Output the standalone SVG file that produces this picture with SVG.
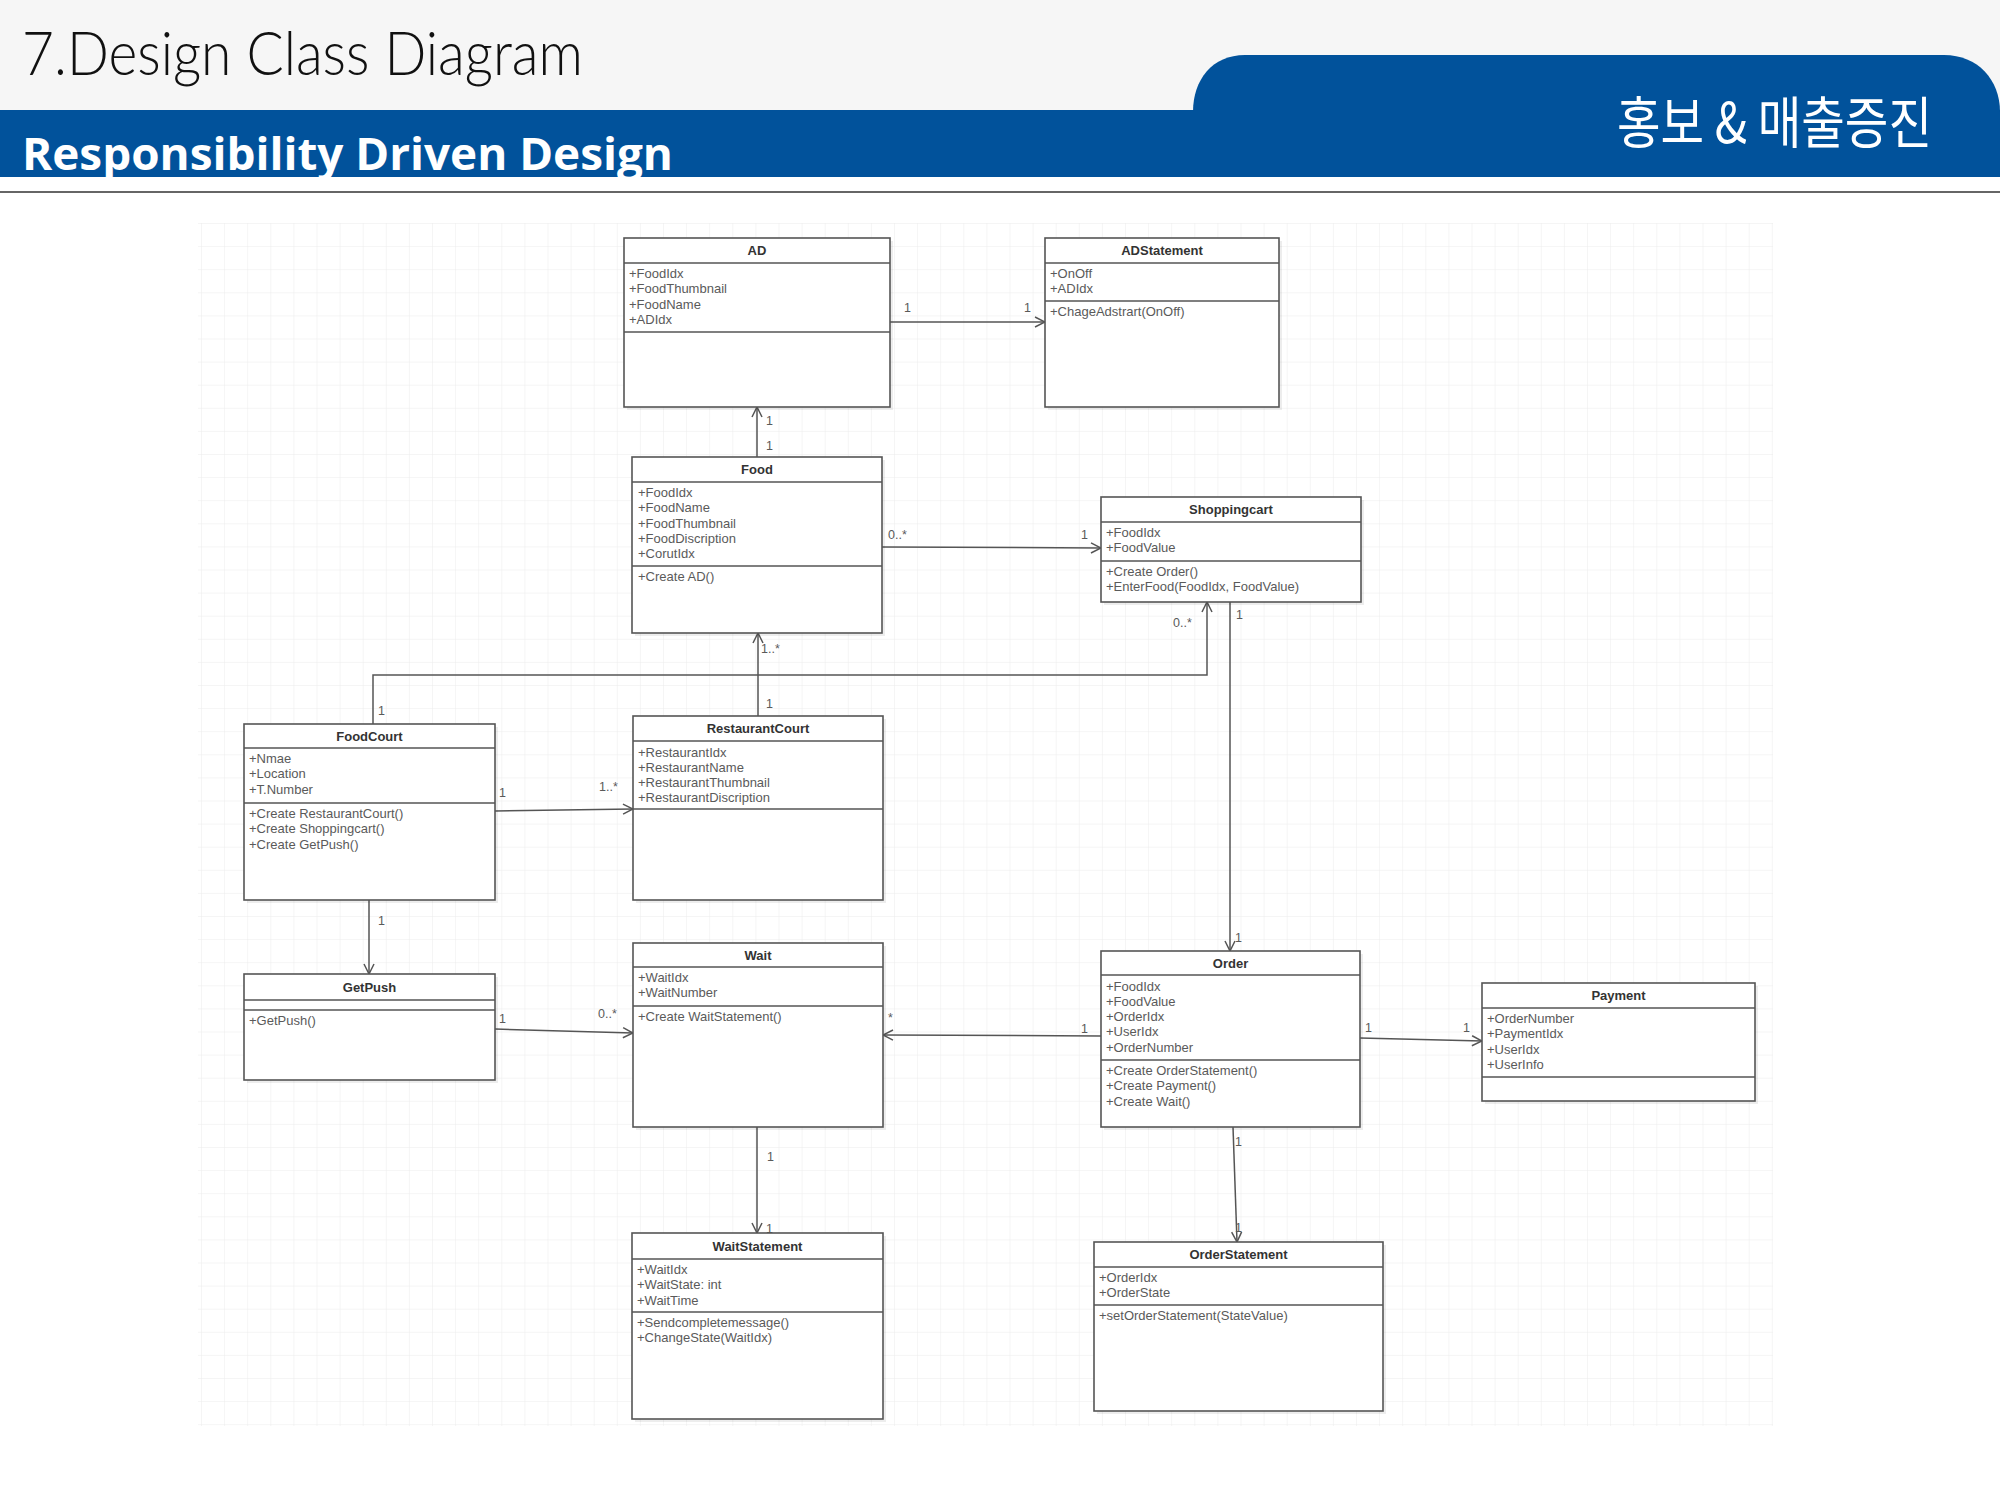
<svg xmlns="http://www.w3.org/2000/svg" width="2000" height="1500" viewBox="0 0 2000 1500">
<style>
.box{fill:#ffffff;stroke:#555555;stroke-width:1.6}
.shadow{fill:#000000;opacity:0.07}
.sep{stroke:#555555;stroke-width:1.6}
.title{font-family:"Liberation Sans",Arial,sans-serif;font-size:13px;font-weight:bold;fill:#333333;text-anchor:middle}
.attr{font-family:"Liberation Sans",Arial,sans-serif;font-size:13px;fill:#5a5a5a}
.lbl{font-family:"Liberation Sans",Arial,sans-serif;font-size:12.5px;fill:#5a5a5a}
.conn{fill:none;stroke:#555555;stroke-width:1.5;marker-end:url(#arr)}
</style>
<defs>
<marker id="arr" markerWidth="12" markerHeight="12" refX="11" refY="6" orient="auto" markerUnits="userSpaceOnUse">
<path d="M1,1 L11,6 L1,11" fill="none" stroke="#555555" stroke-width="1.5"/>
</marker>
<pattern id="grid" x="201" y="223" width="23.1" height="23.1" patternUnits="userSpaceOnUse">
<path d="M0,0 L23.1,0 M0,0 L0,23.1" fill="none" stroke="#ebebeb" stroke-width="1"/>
</pattern>
</defs>

<!-- page background -->
<rect x="0" y="0" width="2000" height="1500" fill="#ffffff"/>
<rect x="0" y="0" width="2000" height="110" fill="#f6f6f6"/>
<rect x="0" y="110" width="2000" height="67" fill="#01529b"/>
<path d="M1193,177 L1193,112 C1193,80 1212,55 1245,55 L1944,55 C1978,55 2000,80 2000,112 L2000,177 Z" fill="#01529b"/>
<line x1="0" y1="192" x2="2000" y2="192" stroke="#666666" stroke-width="2"/>
<text x="22" y="75" font-family="Lato, Open Sans, Liberation Sans, sans-serif" font-weight="300" font-size="62" fill="#111111" textLength="561" lengthAdjust="spacingAndGlyphs">7.Design Class Diagram</text>
<text x="22" y="170" font-family="Open Sans, Liberation Sans, sans-serif" font-size="44" font-weight="bold" fill="#ffffff" textLength="651" lengthAdjust="spacingAndGlyphs">Responsibility Driven Design</text>
<text x="1617" y="143" font-family="Noto Sans CJK KR, sans-serif" font-size="56" fill="#ffffff" textLength="315" lengthAdjust="spacingAndGlyphs">홍보 &amp; 매출증진</text>

<!-- grid area -->
<rect x="198" y="223" width="1575" height="1203" fill="url(#grid)"/>

<!-- connectors -->
<g id="connectors">
<path class="conn" d="M757,457 L757,407"/>
<path class="conn" d="M890,322 L1045,322"/>
<path class="conn" d="M882,547 L1101,548"/>
<path class="conn" d="M1230,602 L1230,951"/>
<path class="conn" d="M373,724 L373,675 L1207,675 L1207,602"/>
<path class="conn" d="M758,716 L758,633"/>
<path class="conn" d="M495,811 L633,809"/>
<path class="conn" d="M369,900 L369,974"/>
<path class="conn" d="M495,1029 L633,1033"/>
<path class="conn" d="M1101,1036 L883,1035"/>
<path class="conn" d="M1360,1038 L1482,1041"/>
<path class="conn" d="M757,1127 L757,1233"/>
<path class="conn" d="M1233,1127 L1237,1242"/>
<text class="lbl" x="766" y="425">1</text>
<text class="lbl" x="766" y="450">1</text>
<text class="lbl" x="904" y="312">1</text>
<text class="lbl" x="1024" y="312">1</text>
<text class="lbl" x="888" y="539">0..*</text>
<text class="lbl" x="1081" y="539">1</text>
<text class="lbl" x="1236" y="619">1</text>
<text class="lbl" x="1235" y="942">1</text>
<text class="lbl" x="378" y="715">1</text>
<text class="lbl" x="1173" y="627">0..*</text>
<text class="lbl" x="761" y="653">1..*</text>
<text class="lbl" x="766" y="708">1</text>
<text class="lbl" x="499" y="797">1</text>
<text class="lbl" x="599" y="791">1..*</text>
<text class="lbl" x="378" y="925">1</text>
<text class="lbl" x="499" y="1023">1</text>
<text class="lbl" x="598" y="1018">0..*</text>
<text class="lbl" x="888" y="1022">*</text>
<text class="lbl" x="1081" y="1033">1</text>
<text class="lbl" x="1365" y="1032">1</text>
<text class="lbl" x="1463" y="1032">1</text>
<text class="lbl" x="767" y="1161">1</text>
<text class="lbl" x="766" y="1233">1</text>
<text class="lbl" x="1235" y="1146">1</text>
<text class="lbl" x="1235" y="1232">1</text>
</g>

<!-- nodes -->
<g id="AD">
<rect class="shadow" x="627" y="241" width="266" height="169"/>
<rect class="box" x="624" y="238" width="266" height="169"/>
<line class="sep" x1="624" y1="263" x2="890" y2="263"/>
<line class="sep" x1="624" y1="332" x2="890" y2="332"/>
<text class="title" x="757" y="255">AD</text>
<text class="attr" x="629" y="278">+FoodIdx</text>
<text class="attr" x="629" y="293.3">+FoodThumbnail</text>
<text class="attr" x="629" y="308.6">+FoodName</text>
<text class="attr" x="629" y="323.9">+ADIdx</text>
</g>

<g id="ADStatement">
<rect class="shadow" x="1048" y="241" width="234" height="169"/>
<rect class="box" x="1045" y="238" width="234" height="169"/>
<line class="sep" x1="1045" y1="263" x2="1279" y2="263"/>
<line class="sep" x1="1045" y1="301" x2="1279" y2="301"/>
<text class="title" x="1162" y="255">ADStatement</text>
<text class="attr" x="1050" y="278">+OnOff</text>
<text class="attr" x="1050" y="293.3">+ADIdx</text>
<text class="attr" x="1050" y="316">+ChageAdstrart(OnOff)</text>
</g>

<g id="Food">
<rect class="shadow" x="635" y="460" width="250" height="176"/>
<rect class="box" x="632" y="457" width="250" height="176"/>
<line class="sep" x1="632" y1="482" x2="882" y2="482"/>
<line class="sep" x1="632" y1="566" x2="882" y2="566"/>
<text class="title" x="757" y="474">Food</text>
<text class="attr" x="638" y="497">+FoodIdx</text>
<text class="attr" x="638" y="512.3">+FoodName</text>
<text class="attr" x="638" y="527.6">+FoodThumbnail</text>
<text class="attr" x="638" y="542.9">+FoodDiscription</text>
<text class="attr" x="638" y="558.2">+CorutIdx</text>
<text class="attr" x="638" y="581">+Create AD()</text>
</g>

<g id="Shoppingcart">
<rect class="shadow" x="1104" y="500" width="260" height="105"/>
<rect class="box" x="1101" y="497" width="260" height="105"/>
<line class="sep" x1="1101" y1="522" x2="1361" y2="522"/>
<line class="sep" x1="1101" y1="561" x2="1361" y2="561"/>
<text class="title" x="1231" y="514">Shoppingcart</text>
<text class="attr" x="1106" y="537">+FoodIdx</text>
<text class="attr" x="1106" y="552.3">+FoodValue</text>
<text class="attr" x="1106" y="576">+Create Order()</text>
<text class="attr" x="1106" y="591.3">+EnterFood(FoodIdx, FoodValue)</text>
</g>

<g id="FoodCourt">
<rect class="shadow" x="247" y="727" width="251" height="176"/>
<rect class="box" x="244" y="724" width="251" height="176"/>
<line class="sep" x1="244" y1="748" x2="495" y2="748"/>
<line class="sep" x1="244" y1="803" x2="495" y2="803"/>
<text class="title" x="369.5" y="740.5">FoodCourt</text>
<text class="attr" x="249" y="763">+Nmae</text>
<text class="attr" x="249" y="778.3">+Location</text>
<text class="attr" x="249" y="793.6">+T.Number</text>
<text class="attr" x="249" y="818">+Create RestaurantCourt()</text>
<text class="attr" x="249" y="833.3">+Create Shoppingcart()</text>
<text class="attr" x="249" y="848.6">+Create GetPush()</text>
</g>

<g id="RestaurantCourt">
<rect class="shadow" x="636" y="719" width="250" height="184"/>
<rect class="box" x="633" y="716" width="250" height="184"/>
<line class="sep" x1="633" y1="741" x2="883" y2="741"/>
<line class="sep" x1="633" y1="809" x2="883" y2="809"/>
<text class="title" x="758" y="733">RestaurantCourt</text>
<text class="attr" x="638" y="757">+RestaurantIdx</text>
<text class="attr" x="638" y="772">+RestaurantName</text>
<text class="attr" x="638" y="787">+RestaurantThumbnail</text>
<text class="attr" x="638" y="802">+RestaurantDiscription</text>
</g>

<g id="GetPush">
<rect class="shadow" x="247" y="977" width="251" height="106"/>
<rect class="box" x="244" y="974" width="251" height="106"/>
<line class="sep" x1="244" y1="1000" x2="495" y2="1000"/>
<line class="sep" x1="244" y1="1010" x2="495" y2="1010"/>
<text class="title" x="369.5" y="991.5">GetPush</text>
<text class="attr" x="249" y="1025">+GetPush()</text>
</g>

<g id="Wait">
<rect class="shadow" x="636" y="946" width="250" height="184"/>
<rect class="box" x="633" y="943" width="250" height="184"/>
<line class="sep" x1="633" y1="967" x2="883" y2="967"/>
<line class="sep" x1="633" y1="1006" x2="883" y2="1006"/>
<text class="title" x="758" y="959.5">Wait</text>
<text class="attr" x="638" y="982">+WaitIdx</text>
<text class="attr" x="638" y="997.3">+WaitNumber</text>
<text class="attr" x="638" y="1021">+Create WaitStatement()</text>
</g>

<g id="Order">
<rect class="shadow" x="1104" y="954" width="259" height="176"/>
<rect class="box" x="1101" y="951" width="259" height="176"/>
<line class="sep" x1="1101" y1="975" x2="1360" y2="975"/>
<line class="sep" x1="1101" y1="1060" x2="1360" y2="1060"/>
<text class="title" x="1230.5" y="967.5">Order</text>
<text class="attr" x="1106" y="990.5">+FoodIdx</text>
<text class="attr" x="1106" y="1005.8">+FoodValue</text>
<text class="attr" x="1106" y="1021.1">+OrderIdx</text>
<text class="attr" x="1106" y="1036.4">+UserIdx</text>
<text class="attr" x="1106" y="1051.7">+OrderNumber</text>
<text class="attr" x="1106" y="1075">+Create OrderStatement()</text>
<text class="attr" x="1106" y="1090.3">+Create Payment()</text>
<text class="attr" x="1106" y="1105.6">+Create Wait()</text>
</g>

<g id="Payment">
<rect class="shadow" x="1485" y="986" width="273" height="118"/>
<rect class="box" x="1482" y="983" width="273" height="118"/>
<line class="sep" x1="1482" y1="1008" x2="1755" y2="1008"/>
<line class="sep" x1="1482" y1="1077" x2="1755" y2="1077"/>
<text class="title" x="1618.5" y="1000">Payment</text>
<text class="attr" x="1487" y="1023">+OrderNumber</text>
<text class="attr" x="1487" y="1038.3">+PaymentIdx</text>
<text class="attr" x="1487" y="1053.6">+UserIdx</text>
<text class="attr" x="1487" y="1068.9">+UserInfo</text>
</g>

<g id="WaitStatement">
<rect class="shadow" x="635" y="1236" width="251" height="186"/>
<rect class="box" x="632" y="1233" width="251" height="186"/>
<line class="sep" x1="632" y1="1259" x2="883" y2="1259"/>
<line class="sep" x1="632" y1="1312" x2="883" y2="1312"/>
<text class="title" x="757.5" y="1250.5">WaitStatement</text>
<text class="attr" x="637" y="1274">+WaitIdx</text>
<text class="attr" x="637" y="1289.3">+WaitState: int</text>
<text class="attr" x="637" y="1304.6">+WaitTime</text>
<text class="attr" x="637" y="1327">+Sendcompletemessage()</text>
<text class="attr" x="637" y="1342.3">+ChangeState(WaitIdx)</text>
</g>

<g id="OrderStatement">
<rect class="shadow" x="1097" y="1245" width="289" height="169"/>
<rect class="box" x="1094" y="1242" width="289" height="169"/>
<line class="sep" x1="1094" y1="1267" x2="1383" y2="1267"/>
<line class="sep" x1="1094" y1="1305" x2="1383" y2="1305"/>
<text class="title" x="1238.5" y="1259">OrderStatement</text>
<text class="attr" x="1099" y="1282">+OrderIdx</text>
<text class="attr" x="1099" y="1297.3">+OrderState</text>
<text class="attr" x="1099" y="1320">+setOrderStatement(StateValue)</text>
</g>
</svg>
